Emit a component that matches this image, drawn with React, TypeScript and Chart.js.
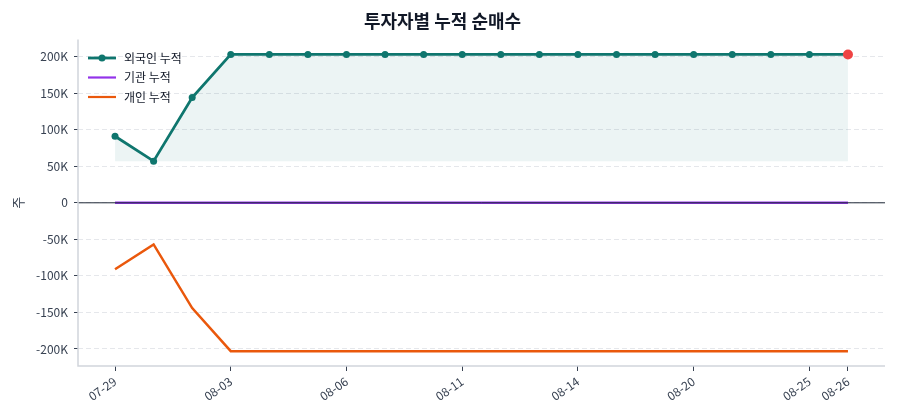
import { useEffect, useRef } from "react"
import { Chart, registerables } from "chart.js"

Chart.register(...registerables)

const dates = [
  "07-29", "07-30", "07-31", "08-03", "08-04", "08-05", "08-06", "08-07", "08-10", "08-11",
  "08-12", "08-13", "08-14", "08-18", "08-19", "08-20", "08-21", "08-24", "08-25", "08-26",
]
const foreignCum = [
  91000, 57000, 144000, 203000, 203000, 203000, 203000, 203000, 203000, 203000,
  203000, 203000, 203000, 203000, 203000, 203000, 203000, 203000, 203000, 203000,
]
const institutionCum = [
  0, 0, 0, 0, 0, 0, 0, 0, 0, 0,
  0, 0, 0, 0, 0, 0, 0, 0, 0, 0,
]
const individualCum = [
  -91000, -57000, -144000, -203000, -203000, -203000, -203000, -203000, -203000, -203000,
  -203000, -203000, -203000, -203000, -203000, -203000, -203000, -203000, -203000, -203000,
]
const xTickIndex = [0, 3, 6, 9, 12, 15, 18, 19]
const yTicks = [-200000, -150000, -100000, -50000, 0, 50000, 100000, 150000, 200000]

const FONT = "'Noto Sans CJK KR', 'Noto Sans', sans-serif"
const TEAL = "#0f766e"
const PURPLE = "#9333ea"
const ORANGE = "#ea580c"
const RED = "#ef4444"

const legendItems = [
  { label: "외국인 누적", color: TEAL, marker: true, width: 2.8 },
  { label: "기관 누적", color: PURPLE, marker: false, width: 2.2 },
  { label: "개인 누적", color: ORANGE, marker: false, width: 2.2 },
]

// spines, zero line, y label and the legend
const decorPlugin = {
  id: "decor",
  afterDatasetsDraw(chart: Chart) {
    const { ctx, chartArea } = chart
    const y0 = chart.scales.y.getPixelForValue(0)
    ctx.save()
    ctx.strokeStyle = "#1f2937"
    ctx.lineWidth = 1
    ctx.beginPath()
    ctx.moveTo(chartArea.left, y0)
    ctx.lineTo(chartArea.right, y0)
    ctx.stroke()
    ctx.restore()
  },
  afterDraw(chart: Chart) {
    const { ctx, chartArea } = chart
    ctx.save()
    ctx.strokeStyle = "#d1d5db"
    ctx.lineWidth = 1.5
    ctx.beginPath()
    ctx.moveTo(chartArea.left, chartArea.top)
    ctx.lineTo(chartArea.left, chartArea.bottom)
    ctx.lineTo(chartArea.right, chartArea.bottom)
    ctx.stroke()

    // y axis label
    ctx.fillStyle = "#374151"
    ctx.font = `13px ${FONT}`
    ctx.translate(18, (chartArea.top + chartArea.bottom) / 2)
    ctx.rotate(-Math.PI / 2)
    ctx.textAlign = "center"
    ctx.textBaseline = "middle"
    ctx.fillText("주", 0, 0)
    ctx.restore()

    ctx.save()
    ctx.font = `12px ${FONT}`
    ctx.textBaseline = "middle"
    legendItems.forEach((item, i) => {
      const y = 58 + i * 19.5
      ctx.strokeStyle = item.color
      ctx.lineWidth = item.width
      ctx.beginPath()
      ctx.moveTo(88, y)
      ctx.lineTo(116, y)
      ctx.stroke()
      if (item.marker) {
        ctx.fillStyle = item.color
        ctx.beginPath()
        ctx.arc(102, y, 3.5, 0, Math.PI * 2)
        ctx.fill()
      }
      ctx.fillStyle = "#111827"
      ctx.fillText(item.label, 124, y)
    })
    ctx.restore()
  },
}

export default function App() {
  const canvasRef = useRef<HTMLCanvasElement>(null)
  const chartRef = useRef<Chart | null>(null)

  useEffect(() => {
    if (!canvasRef.current) return
    if (chartRef.current) chartRef.current.destroy()
    Chart.defaults.font.family = FONT

    const last = dates.length - 1
    const fillBase = Math.min(...foreignCum)

    chartRef.current = new Chart(canvasRef.current, {
      type: "line",
      data: {
        datasets: [
          {
            label: "외국인 누적",
            data: foreignCum.map((v, i) => ({ x: i, y: v })),
            borderColor: TEAL,
            borderWidth: 2.8,
            backgroundColor: "rgba(15, 118, 110, 0.08)",
            fill: { value: fillBase },
            pointRadius: (c: any) => (c.dataIndex === last ? 5 : 3.5),
            pointBackgroundColor: (c: any) => (c.dataIndex === last ? RED : TEAL),
            pointBorderWidth: 0,
            tension: 0,
            order: 1,
          },
          {
            label: "기관 누적",
            data: institutionCum.map((v, i) => ({ x: i, y: v })),
            borderColor: PURPLE,
            borderWidth: 2.5,
            pointRadius: 0,
            fill: false,
            order: 2,
          },
          {
            label: "개인 누적",
            data: individualCum.map((v, i) => ({ x: i, y: v })),
            borderColor: ORANGE,
            borderWidth: 2.5,
            pointRadius: 0,
            fill: false,
            order: 3,
          },
        ],
      },
      options: {
        animation: false,
        responsive: true,
        maintainAspectRatio: false,
        layout: { padding: { left: 0, right: 15, bottom: 0 } },
        scales: {
          x: {
            type: "linear",
            min: -0.96,
            max: last + 0.96,
            afterBuildTicks: (scale: any) => {
              scale.ticks = xTickIndex.map((v) => ({ value: v }))
            },
            afterFit: (scale: any) => {
              scale.height = 54
            },
            grid: {
              drawOnChartArea: false,
              drawTicks: true,
              tickLength: 5,
              tickColor: "#374151",
            },
            border: { display: false },
            ticks: {
              color: "#374151",
              font: { size: 12 },
              minRotation: 35,
              maxRotation: 35,
              padding: 3,
              callback: (v: any) => dates[v] ?? "",
            },
          },
          y: {
            min: -223300,
            max: 223300,
            afterBuildTicks: (scale: any) => {
              scale.ticks = yTicks.map((v) => ({ value: v }))
            },
            afterFit: (scale: any) => {
              scale.width = 78
            },
            grid: {
              color: "#e5e7eb",
              lineWidth: 1,
              drawTicks: true,
              tickLength: 4,
              tickColor: "#374151",
            },
            border: { display: false, dash: [5, 3] },
            ticks: {
              color: "#374151",
              font: { size: 12 },
              padding: 6,
              callback: (v: any) => (v === 0 ? "0" : `${v / 1000}K`),
            },
          },
        },
        plugins: {
          legend: { display: false },
          tooltip: { enabled: false },
          title: {
            display: true,
            text: "투자자별 누적 순매수",
            color: "#111827",
            font: { size: 18, weight: "bold" },
            padding: { top: 10, bottom: 8 },
          },
        },
      },
      plugins: [decorPlugin],
    })

    return () => {
      if (chartRef.current) {
        chartRef.current.destroy()
        chartRef.current = null
      }
    }
  }, [])

  return (
    <div style={{ position: "fixed", left: 0, top: 0, width: 900, height: 420, background: "#fff" }}>
      <canvas ref={canvasRef}></canvas>
    </div>
  )
}
